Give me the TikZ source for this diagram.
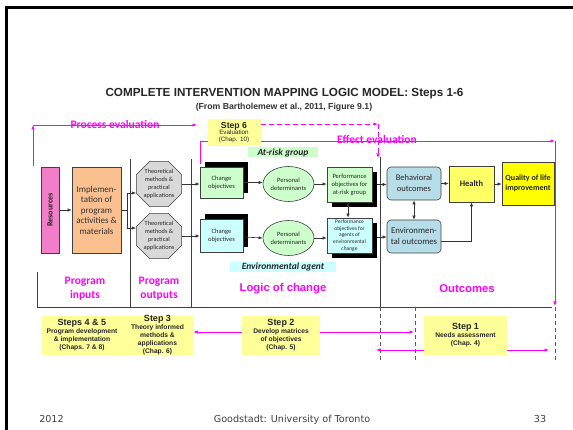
\documentclass[tikz,border=0pt]{standalone}
\usepackage{fontspec}
\setmainfont{Carlito}
\newfontfamily\arialf{Liberation Sans}
\newfontfamily\verdf{DejaVu Sans}
\usetikzlibrary{shapes.geometric,shadows,arrows.meta}
\newcommand\myfs[2]{\fontsize{#1}{#2}\selectfont}
\definecolor{pinkres}{RGB}{242,125,200}
\definecolor{orangeimp}{RGB}{250,192,144}
\definecolor{octgray}{RGB}{217,217,217}
\definecolor{lgreen}{RGB}{204,255,204}
\definecolor{lcyan}{RGB}{204,255,255}
\definecolor{lblue}{RGB}{183,221,232}
\definecolor{lyellow}{RGB}{255,255,153}
\definecolor{hyellow}{RGB}{255,255,102}
\definecolor{byellow}{RGB}{255,255,0}
\definecolor{mag}{RGB}{255,0,255}
\begin{document}
\begin{tikzpicture}[x=1pt,y=-1pt,
  bx/.style={draw=black!75,line width=0.6pt,inner sep=0pt,align=center,text=black!85},
  arr/.style={-{Latex[length=4pt,width=3.2pt]},line width=0.6pt,draw=black!80},
  darr/.style={{Latex[length=4pt,width=3.2pt]}-{Latex[length=4pt,width=3.2pt]},line width=0.6pt,draw=black!80},
  marr/.style={-{Latex[length=4.5pt,width=3.6pt]},draw=mag,line width=0.8pt},
  mdash/.style={-{Latex[length=4.5pt,width=3.6pt]},draw=mag,line width=0.9pt,dash pattern=on 5pt off 3pt},
  sep/.style={draw=black!75,line width=0.7pt},
  dsep/.style={draw=black!65,line width=0.7pt,dash pattern=on 4pt off 3pt},
  shup/.style={drop shadow={shadow xshift=5pt,shadow yshift=5pt,fill=black,opacity=1}},
  shdn/.style={drop shadow={shadow xshift=5pt,shadow yshift=-5pt,fill=black,opacity=1}},
  mlab/.style={text=mag,font=\bfseries\myfs{11.5}{14},align=center,inner sep=0pt},
  alab/.style={text=mag,font=\arialf\bfseries\myfs{11.3}{14},inner sep=0pt},
  stepbox/.style={fill=lyellow,inner sep=0pt,align=center,font=\arialf\bfseries\myfs{6.7}{8},text=black!85},
  octo/.style={draw=black!75,line width=0.6pt,fill=octgray,regular polygon,regular polygon sides=8,minimum size=49pt,inner sep=0pt},
  octtxt/.style={font=\myfs{6.3}{8.2},align=center,text=black!85,inner sep=0pt},
  grouplab/.style={inner sep=0pt,font=\bfseries\itshape\myfs{9.5}{10},text=black!85},
  foot/.style={font=\verdf\myfs{9.6}{11},text=black!75,inner sep=0pt}
]
\useasboundingbox (0,0) rectangle (573,430);
\fill[white] (0,0) rectangle (573,430);
\draw[line width=2.6pt] (6.5,431) -- (6.5,7.3) -- (574,7.3);

% title
\node[font=\arialf\bfseries\myfs{11.7}{14},text=black!85,inner sep=0pt] (title) at (284.5,94) {COMPLETE INTERVENTION MAPPING LOGIC MODEL: Steps 1-6};
\node[font=\arialf\bfseries\myfs{8.7}{10},text=black!80,inner sep=0pt] (subtitle) at (284,107) {(From Bartholemew et al., 2011, Figure 9.1)};

% frame and separators
\draw[sep] (37,272) -- (37,307) -- (552,307);
\draw[sep] (130,159) -- (130,307);
\draw[sep] (191,159) -- (191,307);
\draw[sep] (380,157) -- (380,307);
\draw[dsep] (380,307) -- (380,362);
\draw[dsep] (415,307) -- (415,362);
\draw[dsep] (555,307) -- (555,362);

% magenta evaluation paths
\coordinate (pe0) at (33,166);
\coordinate (pe1) at (33,125);
\coordinate (pe2) at (197,125);
\draw[marr] (pe0) -- (pe1);
\draw[marr] (pe1) -- (pe2);
\node[font=\bfseries\myfs{11.5}{12},text=mag,inner sep=0pt] (pelab) at (115,125) {Process evaluation};

\coordinate (ee0) at (200,164);
\coordinate (ee1) at (555,141);
\coordinate (ee2) at (555,306);
\draw[marr] (ee0) |- (ee1);
\draw[marr] (ee1) -- (ee2);
\node[font=\bfseries\myfs{11.5}{12},text=mag,inner sep=0pt] (eelab) at (377,140) {Effect evaluation};

% step 6 (drawn over the effect evaluation line)
\node[stepbox,minimum width=53pt,minimum height=27pt,font=\arialf\myfs{6.3}{8}] (s6) at (234,132.5)
  {{\bfseries\myfs{8.7}{9}Step 6}\\[-1.5pt]Evaluation\\[-0.8pt](Chap. 10)};

\coordinate (de1) at (378,124);
\coordinate (de2) at (378,158);
\draw[mdash] ([yshift=8.5pt]s6.east) -- (de1);
\draw[mdash] (de1) -- (de2);

% inputs
\node[bx,fill=pinkres,minimum width=18pt,minimum height=86pt] (res) at (50,210)
  {\rotatebox{90}{\bfseries\myfs{8}{9}Resources}};
\node[bx,fill=orangeimp,minimum width=49pt,minimum height=86pt,font=\myfs{9}{10.5},text=black!80] (imp) at (96.5,210)
  {Implemen-\\tation of\\program\\activities \&\\materials};
\draw[arr] (res.east) -- (imp.west);

% outputs
\node[octo] (oct1) at (159,184) {};
\node[octtxt] (oct1t) at (oct1) {Theoretical\\methods \&\\practical\\applications};
\node[octo] (oct2) at (159,236) {};
\node[octtxt] (oct2t) at (oct2) {Theoretical\\methods \&\\practical\\applications};
\coordinate (br) at (127,210);
\draw[arr,-] (imp.east) -- (br);
\draw[arr] (br) |- ([yshift=-9pt]oct1.west);
\draw[arr] (br) |- ([yshift=8pt]oct2.west);

% logic of change
\node[grouplab,fill=lgreen,minimum width=70pt,minimum height=10pt] (atrisk) at (283,152.5) {At-risk group};
\node[grouplab,fill=lcyan,minimum width=106pt,minimum height=10pt] (envag) at (283,267) {Environmental agent};

\node[bx,fill=lgreen,shup,minimum width=43pt,minimum height=31pt,font=\myfs{6.5}{8}] (co1) at (221.5,182.5) {Change\\objectives};
\node[bx,fill=lcyan,shup,minimum width=43pt,minimum height=33pt,font=\myfs{6.5}{8}] (co2) at (221.5,235.5) {Change\\objectives};
\node[bx,ellipse,fill=lgreen,minimum width=51pt,minimum height=35pt,font=\myfs{6.5}{8}] (pd1) at (288.5,184) {Personal\\determinants};
\node[bx,ellipse,fill=lgreen,minimum width=51pt,minimum height=35pt,font=\myfs{6.5}{8}] (pd2) at (288.5,238) {Personal\\determinants};
\node[bx,fill=lgreen,shdn,minimum width=45pt,minimum height=35pt,font=\myfs{6.5}{8}] (po1) at (349.5,184.5) {Performance\\objectives for\\at-risk group};
\node[bx,fill=lcyan,shdn,minimum width=45pt,minimum height=35pt,font=\myfs{5.5}{6.8}] (po2) at (349.5,235.5) {Performance\\objectives for\\agents of\\environmental\\change};

\draw[arr] (oct1.east) -- (oct1.east -| co1.west);
\draw[arr] (oct2.east) -- (oct2.east -| co2.west);
\draw[arr] (co1.east) -- (co1.east -| pd1.west);
\draw[arr] (co2.east |- 0,237) -- (pd2.west);
\draw[arr] (pd1.east) -- (pd1.east -| po1.west);
\draw[arr] (pd2.east) -- (pd2.east -| po2.west);
\draw[darr] ([xshift=-1.5pt]po1.south) -- ([xshift=-1.5pt]po2.north);

% outcomes
\node[bx,rounded corners=4pt,fill=lblue,minimum width=54pt,minimum height=33pt,font=\myfs{8.5}{11}] (bo) at (414,183.5) {Behavioral\\outcomes};
\node[bx,rounded corners=4pt,fill=lblue,minimum width=54pt,minimum height=33pt,font=\myfs{8.8}{11}] (eo) at (414,236.5) {Environmen-\\tal outcomes};
\node[bx,fill=hyellow,minimum width=45pt,minimum height=36pt,font=\bfseries\myfs{8.5}{10}] (health) at (471.5,184) {Health};
\node[bx,fill=byellow,minimum width=52pt,minimum height=43pt,font=\bfseries\myfs{8}{10}] (qol) at (528,183.5) {Quality of life\\improvement};

\draw[arr] ([xshift=5pt]po1.east) -- (bo.west |- po1.east);
\draw[arr] ([xshift=5pt]po2.east |- 0,237) -- (eo.west |- 0,237);
\draw[darr] (bo.south) -- (eo.north);
\draw[arr] (bo.east) -- (bo.east -| health.west);
\draw[arr] ([yshift=-4.5pt]eo.east) -| (health.south);
\draw[arr] (health.east) -- (health.east -| qol.west);

% section labels
\node[mlab] (lin) at (85,289) {Program\\inputs};
\node[mlab] (lout) at (159,289) {Program\\outputs};
\node[alab] (llc) at (283,289) {Logic of change};
\node[alab] (lou) at (467,289) {Outcomes};

% bottom steps
\node[stepbox,minimum width=80pt,minimum height=39pt] (s45) at (82,335.5)
  {{\myfs{9}{10}Steps 4 \& 5}\\Program development\\\& implementation\\(Chaps. 7 \& 8)};
\node[stepbox,minimum width=71pt,minimum height=39pt] (s3) at (157.5,335.5)
  {{\myfs{9}{9}Step 3}\\Theory informed\\methods \&\\applications\\(Chap. 6)};
\node[stepbox,minimum width=78pt,minimum height=39pt] (s2) at (281,335.5)
  {{\myfs{9}{10}Step 2}\\Develop matrices\\of objectives\\(Chap. 5)};
\node[stepbox,minimum width=83pt,minimum height=39pt] (s1) at (465.5,335.5)
  {{\myfs{9}{10}Step 1}\\Needs assessment\\(Chap. 4)};

\coordinate (b1) at (414,332);
\coordinate (b2) at (376,350);
\coordinate (b3) at (549,350);
\draw[marr] ([yshift=3.5pt]s2.west) -- ([yshift=3.5pt]s3.east);
\draw[marr] ([yshift=3.5pt]s2.east) -- (b1);
\draw[marr] ([yshift=-14.5pt]s1.west) -- (b2);
\draw[marr] ([yshift=-14.5pt]s1.east) -- (b3);

% footer
\node[foot] (f1) at (51.5,419.5) {2012};
\node[foot] (f2) at (292,419.5) {Goodstadt: University of Toronto};
\node[foot] (f3) at (540,419.5) {33};
\end{tikzpicture}
\end{document}
